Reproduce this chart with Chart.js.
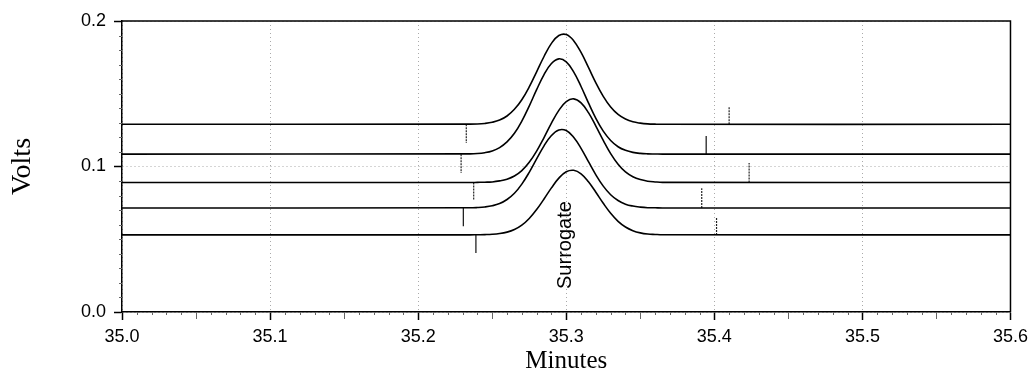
<!DOCTYPE html>
<html>
<head>
<meta charset="utf-8">
<script src="https://cdn.jsdelivr.net/npm/chart.js@4/dist/chart.umd.min.js"></script>
<style>
  html, body { margin: 0; padding: 0; background: #fff; }
  #wrap { width: 1034px; height: 376px; }
</style>
</head>
<body>
<div id="wrap"><canvas id="chart" width="1034" height="376"></canvas></div>
<script>
// Retention times (minutes) shared by all five traces
const times = [35.0, 35.235, 35.24, 35.245, 35.25, 35.255, 35.26, 35.265, 35.27, 35.275, 35.28,
  35.285, 35.29, 35.295, 35.3, 35.305, 35.31, 35.315, 35.32, 35.325, 35.33, 35.335, 35.34,
  35.345, 35.35, 35.355, 35.36, 35.365, 35.6];

// Detector signal (volts) of each overlaid run, top to bottom
const trace1 = [0.129, 0.1291, 0.1292, 0.1296, 0.1304, 0.1319, 0.1347, 0.1393, 0.1459, 0.1547, 0.1651,
  0.1756, 0.1846, 0.1900, 0.1907, 0.1865, 0.1784, 0.1681, 0.1575, 0.1482, 0.1409, 0.1358, 0.1326,
  0.1307, 0.1298, 0.1293, 0.1291, 0.129, 0.129];
const trace2 = [0.1085, 0.1087, 0.1089, 0.1095, 0.1107, 0.1130, 0.1169, 0.1228, 0.1312, 0.1415, 0.1528,
  0.1632, 0.1708, 0.1740, 0.1719, 0.1650, 0.1550, 0.1437, 0.1331, 0.1243, 0.1179, 0.1136, 0.1111,
  0.1097, 0.1090, 0.1087, 0.1086, 0.1085, 0.1085];
const trace3 = [0.089, 0.0890, 0.0891, 0.0892, 0.0894, 0.0901, 0.0913, 0.0935, 0.0972, 0.1029, 0.1106,
  0.1199, 0.1298, 0.1386, 0.1446, 0.1465, 0.1437, 0.1370, 0.1278, 0.1180, 0.1089, 0.1016, 0.0963,
  0.0930, 0.0910, 0.0899, 0.0894, 0.0891, 0.089];
const trace4 = [0.0715, 0.0716, 0.0718, 0.0722, 0.0730, 0.0745, 0.0773, 0.0816, 0.0879, 0.0960, 0.1052,
  0.1142, 0.1213, 0.1251, 0.1247, 0.1201, 0.1125, 0.1033, 0.0943, 0.0865, 0.0806, 0.0766, 0.0741,
  0.0728, 0.0721, 0.0717, 0.0716, 0.0715, 0.0715];
const trace5 = [0.053, 0.0530, 0.0531, 0.0532, 0.0534, 0.0539, 0.0549, 0.0567, 0.0597, 0.0643, 0.0704,
  0.0777, 0.0853, 0.0920, 0.0964, 0.0974, 0.0950, 0.0895, 0.0823, 0.0747, 0.0678, 0.0623, 0.0584,
  0.0559, 0.0544, 0.0536, 0.0533, 0.0531, 0.053];
const traces = [trace1, trace2, trace3, trace4, trace5];

// Integration start / stop markers: time, start level, end level, dotted or solid
const markerTimes = [35.2325, 35.229, 35.2375, 35.2305, 35.239, 35.410, 35.3945, 35.4235, 35.3915, 35.4015];
const markerFrom = [0.129, 0.1085, 0.089, 0.0715, 0.053, 0.129, 0.1085, 0.089, 0.0715, 0.053];
const markerTo = [0.1162, 0.0955, 0.077, 0.059, 0.0405, 0.141, 0.121, 0.1024, 0.085, 0.0653];
const markerDotted = [true, true, true, false, false, true, false, true, true, true];

// Peak name and where it is written
const peakLabel = 'Surrogate';
const peakTime = 35.2995;
const peakLabelLevel = 0.046;

// Axis ranges and tick steps
const xMin = 35.0, xMax = 35.6, xStep = 0.1, xMinorPerMajor = 10;
const yMin = 0.0, yMax = 0.2, yStep = 0.1, yMinorPerMajor = 10;

const SANS = '"Liberation Sans", Arial, Helvetica, sans-serif';
const SERIF = '"Liberation Serif", "Times New Roman", Times, serif';

const datasets = [];
traces.forEach((tr, k) => {
  datasets.push({
    label: 'run ' + (k + 1),
    data: times.map((t, i) => ({ x: t, y: tr[i] })),
    borderColor: '#000',
    borderWidth: 1.6,
    pointRadius: 0,
    fill: false,
    tension: 0.4,
    order: 1
  });
});
markerTimes.forEach((t, i) => {
  datasets.push({
    label: 'marker',
    data: [{ x: t, y: markerFrom[i] }, { x: t, y: markerTo[i] }],
    borderColor: markerDotted[i] ? '#222' : '#111',
    borderWidth: 1.2,
    borderDash: markerDotted[i] ? [2, 1] : [],
    pointRadius: 0,
    fill: false,
    tension: 0,
    order: 2
  });
});

// Frame, minor ticks and peak name
const decorations = {
  id: 'decorations',
  afterDraw(chart) {
    const { ctx, chartArea: a, scales: { x, y } } = chart;
    ctx.save();
    // top and right edges of the plot frame
    ctx.strokeStyle = '#000';
    ctx.lineWidth = 1.5;
    ctx.beginPath();
    ctx.moveTo(a.left, a.top);
    ctx.lineTo(a.right, a.top);
    ctx.lineTo(a.right, a.bottom);
    ctx.stroke();

    // minor ticks
    ctx.strokeStyle = '#666';
    ctx.lineWidth = 1;
    const xn = Math.round((xMax - xMin) / xStep) * xMinorPerMajor;
    for (let i = 1; i < xn; i++) {
      if (i % xMinorPerMajor === 0) continue;
      const px = Math.round(x.getPixelForValue(xMin + i * xStep / xMinorPerMajor)) + 0.5;
      const len = (i % (xMinorPerMajor / 2) === 0) ? 7 : 3;
      ctx.beginPath();
      ctx.moveTo(px, a.bottom);
      ctx.lineTo(px, a.bottom + len);
      ctx.stroke();
    }
    const yn = Math.round((yMax - yMin) / yStep) * yMinorPerMajor;
    for (let i = 1; i < yn; i++) {
      if (i % yMinorPerMajor === 0) continue;
      const py = Math.round(y.getPixelForValue(yMin + i * yStep / yMinorPerMajor)) + 0.5;
      ctx.beginPath();
      ctx.moveTo(a.left, py);
      ctx.lineTo(a.left - 3, py);
      ctx.stroke();
    }

    // peak name, written upward
    const lx = x.getPixelForValue(peakTime);
    const ly = y.getPixelForValue(peakLabelLevel);
    ctx.translate(lx, ly);
    ctx.rotate(-Math.PI / 2);
    ctx.fillStyle = '#000';
    ctx.font = '20px ' + SANS;
    ctx.textAlign = 'center';
    ctx.textBaseline = 'middle';
    ctx.fillText(peakLabel, 0, 0);
    ctx.restore();
  }
};

new Chart(document.getElementById('chart'), {
  type: 'line',
  data: { datasets },
  options: {
    responsive: false,
    animation: false,
    devicePixelRatio: 1,
    layout: { padding: { top: 21, right: 22, left: 0, bottom: 0 } },
    plugins: { legend: { display: false }, tooltip: { enabled: false } },
    scales: {
      x: {
        type: 'linear',
        min: xMin,
        max: xMax,
        afterFit(scale) { scale.height = 64; },
        ticks: {
          stepSize: xStep,
          padding: 6,
          maxRotation: 0,
          color: '#000',
          font: { family: SANS, size: 18 },
          callback: (v) => Number(v).toFixed(1)
        },
        grid: {
          color: '#aaa',
          lineWidth: 1,
          tickLength: 8,
          tickColor: '#000',
          tickWidth: 1.5,
          tickBorderDash: []
        },
        border: { display: true, color: '#000', width: 1.5, dash: [1, 3] },
        title: {
          display: true,
          text: 'Minutes',
          color: '#000',
          font: { family: SERIF, size: 25 },
          padding: { top: 0, bottom: 0 }
        }
      },
      y: {
        type: 'linear',
        min: yMin,
        max: yMax,
        afterFit(scale) { scale.width = 122; },
        ticks: {
          stepSize: yStep,
          padding: 8,
          color: '#000',
          font: { family: SANS, size: 18 },
          callback: (v) => Number(v).toFixed(1)
        },
        grid: {
          color: '#aaa',
          lineWidth: 1,
          tickLength: 8,
          tickColor: '#000',
          tickWidth: 1.5,
          tickBorderDash: []
        },
        border: { display: true, color: '#000', width: 1.5, dash: [1, 3] },
        title: {
          display: true,
          text: 'Volts',
          color: '#000',
          font: { family: SERIF, size: 28 },
          padding: { top: 6, bottom: 0 }
        }
      }
    }
  },
  plugins: [decorations]
});
</script>
</body>
</html>
